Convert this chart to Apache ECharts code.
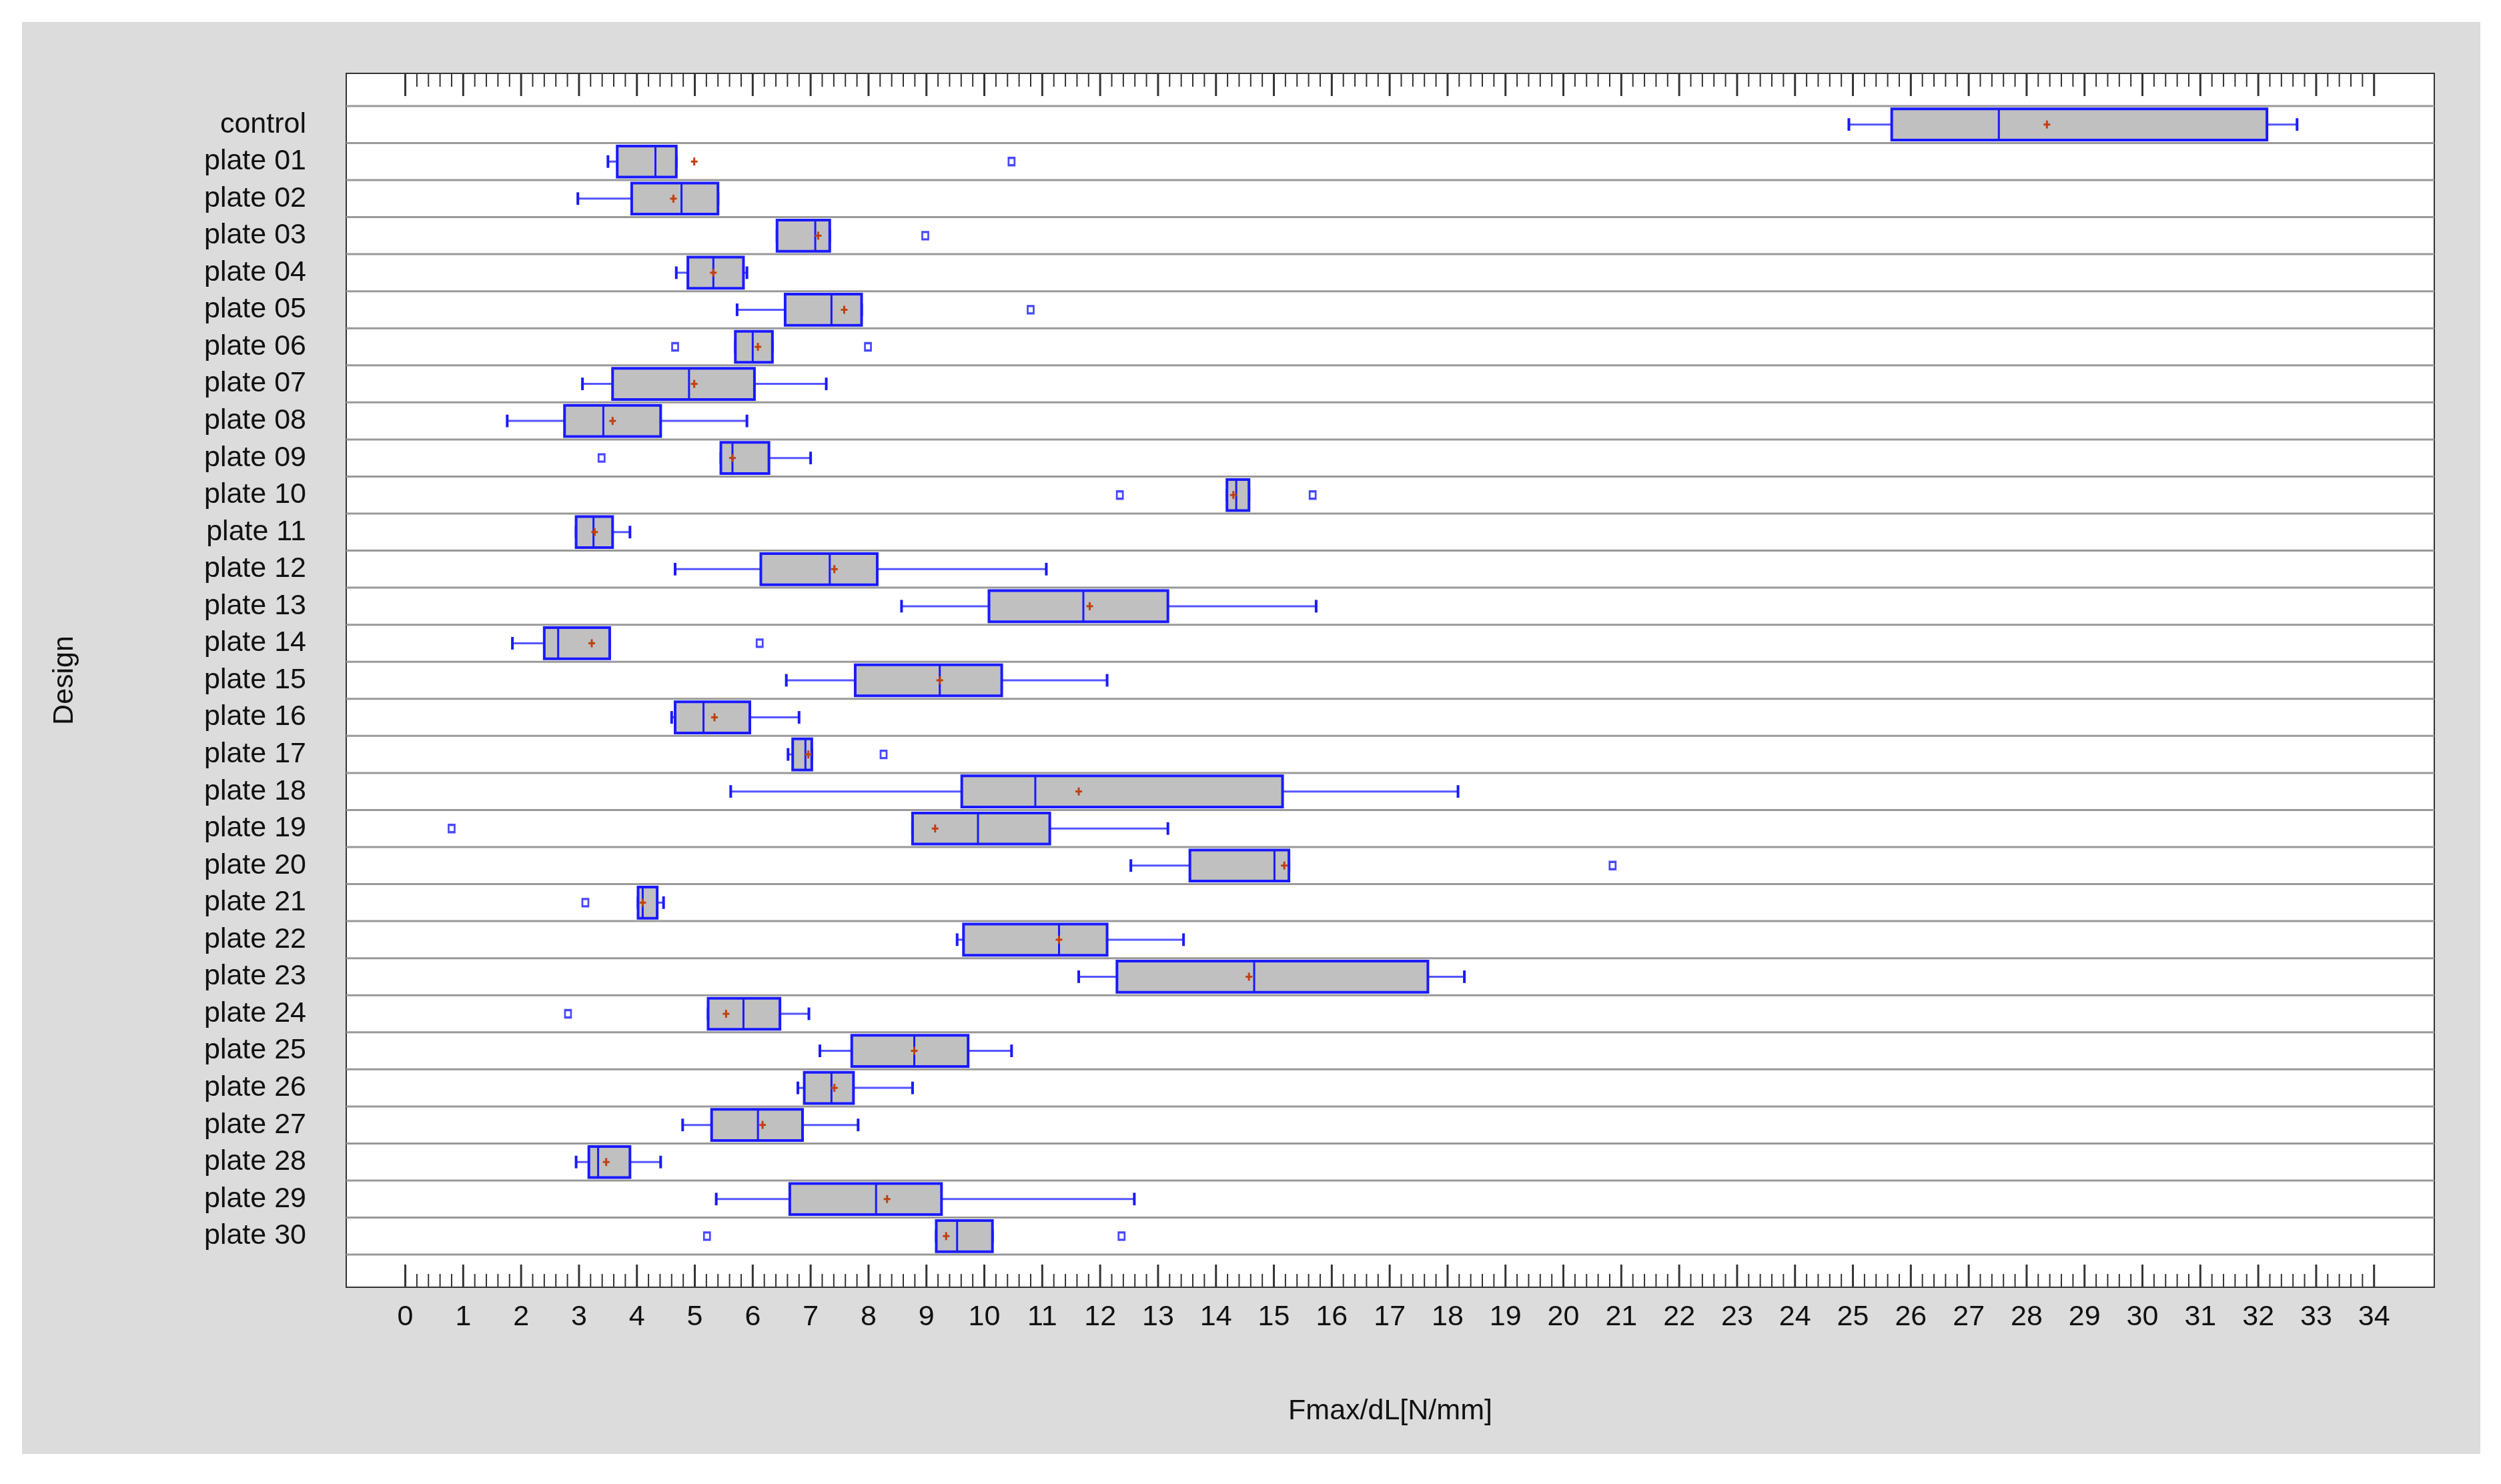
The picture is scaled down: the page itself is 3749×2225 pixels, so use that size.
<!DOCTYPE html>
<html><head><meta charset="utf-8">
<script src="https://cdn.jsdelivr.net/npm/echarts@6/dist/echarts.min.js"></script>
<style>html,body{margin:0;padding:0;background:#fff}#c{width:3749px;height:2225px}</style>
</head><body><div id="c"></div>
<script>
const categories = ['control','plate 01','plate 02','plate 03','plate 04','plate 05','plate 06','plate 07','plate 08','plate 09','plate 10','plate 11','plate 12','plate 13','plate 14','plate 15','plate 16','plate 17','plate 18','plate 19','plate 20','plate 21','plate 22','plate 23','plate 24','plate 25','plate 26','plate 27','plate 28','plate 29','plate 30'];
// [low, q1, median, q3, high]
const boxStats = [
 [24.93,25.67,27.52,32.15,32.67],
 [3.50,3.66,4.32,4.68,4.68],
 [2.98,3.91,4.77,5.40,5.40],
 [6.42,6.42,7.08,7.33,7.33],
 [4.68,4.88,5.32,5.84,5.90],
 [5.73,6.56,7.36,7.88,7.88],
 [5.70,5.70,6.00,6.34,6.34],
 [3.06,3.58,4.90,6.03,7.27],
 [1.76,2.75,3.42,4.41,5.90],
 [5.45,5.45,5.65,6.28,7.00],
 [14.19,14.19,14.35,14.57,14.57],
 [2.95,2.95,3.25,3.58,3.88],
 [4.66,6.14,7.33,8.15,11.07],
 [8.57,10.08,11.71,13.17,15.73],
 [1.85,2.40,2.64,3.53,3.53],
 [6.58,7.77,9.23,10.30,12.12],
 [4.60,4.66,5.15,5.95,6.80],
 [6.61,6.69,6.91,7.02,7.02],
 [5.62,9.61,10.88,15.15,18.18],
 [8.76,8.76,9.89,11.13,13.17],
 [12.53,13.55,15.01,15.26,15.26],
 [4.02,4.02,4.10,4.35,4.46],
 [9.53,9.64,11.29,12.12,13.44],
 [11.63,12.29,14.66,17.66,18.29],
 [5.23,5.23,5.84,6.47,6.97],
 [7.16,7.71,8.79,9.72,10.47],
 [6.78,6.89,7.36,7.74,8.76],
 [4.79,5.29,6.09,6.86,7.82],
 [2.95,3.17,3.33,3.88,4.41],
 [5.37,6.64,8.13,9.26,12.59],
 [9.17,9.17,9.53,10.14,10.14]
];
const means = [28.35,4.99,4.63,7.13,5.32,7.58,6.09,4.99,3.58,5.65,14.30,3.27,7.41,11.82,3.22,9.23,5.34,6.96,11.63,9.15,15.18,4.10,11.29,14.57,5.54,8.79,7.41,6.17,3.47,8.32,9.34];
// [row index, value]
const outliers = [[1,10.47],[3,8.98],[5,10.80],[6,4.66],[6,7.99],[9,3.39],[10,12.34],[10,15.67],[14,6.12],[17,8.26],[19,0.80],[20,20.85],[21,3.11],[24,2.81],[30,5.21],[30,12.37]];
const xTicks = [0,1,2,3,4,5,6,7,8,9,10,11,12,13,14,15,16,17,18,19,20,21,22,23,24,25,26,27,28,29,30,31,32,33,34];

const XMIN=-1.02, XMAX=35.04;
const boxData = boxStats.map((b,i)=>[i].concat(b).concat([means[i]]));
const sepData = []; for(let i=0;i<=categories.length;i++) sepData.push([i-0.5]);
const tickData = [];
xTicks.forEach(t=>{tickData.push([t,1]); if(t<34) [1,2,3,4].forEach(k=>tickData.push([t+k*0.2,0]));});
const BLUE='#1a1aff';
const chart = echarts.init(document.getElementById('c'));
chart.setOption({
 backgroundColor:'#fff',
 animation:false,
 graphic:[{type:'rect',z:-10,silent:true,shape:{x:33,y:33,width:3685,height:2147},style:{fill:'#dcdcdc'}}],
 grid:{left:519,right:100,top:110,bottom:295,show:true,backgroundColor:'#fff',borderColor:'#333',borderWidth:2},
 xAxis:{type:'value',position:'bottom',min:XMIN,max:XMAX,
   axisLine:{show:false},splitLine:{show:false},axisTick:{show:false},
   axisLabel:{customValues:xTicks,fontFamily:'Liberation Sans',fontSize:43,color:'#111',margin:24},
   name:'Fmax/dL[N/mm]',nameLocation:'middle',nameGap:165,nameTextStyle:{fontFamily:'Liberation Sans',fontSize:43,color:'#111'}
 },
 yAxis:{type:'value',inverse:true,min:-1.38,max:categories.length-1+1.38,
   axisLine:{show:false},splitLine:{show:false},axisTick:{show:false},
   axisLabel:{customValues:categories.map((c,i)=>i),formatter:v=>categories[Math.round(v)],fontFamily:'Liberation Sans',fontSize:43,color:'#111',margin:60},
   name:'Design',nameLocation:'middle',nameGap:400,nameTextStyle:{fontFamily:'Liberation Sans',fontSize:43,color:'#111'}
 },
 series:[
  {type:'custom',data:sepData,z:1,silent:true,
   renderItem:(p,api)=>{const a=api.coord([XMIN,api.value(0)]),b=api.coord([XMAX,api.value(0)]);
    return {type:'line',shape:{x1:a[0],y1:a[1],x2:b[0],y2:b[1]},style:{stroke:'#999',lineWidth:3}};}},
  {type:'custom',data:tickData,silent:true,z:2,
   renderItem:(p,api)=>{const x=api.coord([api.value(0),0])[0];const cs=p.coordSys;const L=api.value(1)?34:20;
    return {type:'group',children:[
     {type:'line',shape:{x1:x,y1:cs.y,x2:x,y2:cs.y+L},style:{stroke:'#333',lineWidth:api.value(1)?3:2}},
     {type:'line',shape:{x1:x,y1:cs.y+cs.height,x2:x,y2:cs.y+cs.height-L},style:{stroke:'#333',lineWidth:api.value(1)?3:2}}]};}},
  {type:'custom',data:boxData,z:5,
   renderItem:(p,api)=>{
    const y=api.value(0),lo=api.value(1),q1=api.value(2),md=api.value(3),q3=api.value(4),hi=api.value(5),mn=api.value(6);
    const h=api.size([0,0.84])[1], ch=api.size([0,0.34])[1];
    const pl=api.coord([lo,y]),p1=api.coord([q1,y]),pm=api.coord([md,y]),p3=api.coord([q3,y]),ph=api.coord([hi,y]),pmn=api.coord([mn,y]);
    const cy=pl[1];
    const ln=(x1,y1,x2,y2,w,c)=>({type:'line',shape:{x1,y1,x2,y2},style:{stroke:c||BLUE,lineWidth:w||3}});
    return {type:'group',children:[
     ln(pl[0],cy,p1[0],cy,3,'#5555ff'), ln(p3[0],cy,ph[0],cy,3,'#5555ff'),
     ln(pl[0],cy-ch/2,pl[0],cy+ch/2,4), ln(ph[0],cy-ch/2,ph[0],cy+ch/2,4),
     {type:'rect',shape:{x:p1[0],y:cy-h/2,width:Math.max(p3[0]-p1[0],1),height:h},style:{fill:'#c0c0c0',stroke:BLUE,lineWidth:4}},
     ln(pm[0],cy-h/2,pm[0],cy+h/2,3),
     ln(pmn[0]-5,cy,pmn[0]+5,cy,3,'#c04010'), ln(pmn[0],cy-6,pmn[0],cy+6,3,'#c04010')
    ]};}},
  {type:'scatter',data:outliers.map(o=>[o[1],o[0]]),symbol:'rect',symbolSize:[9,11],z:6,
   itemStyle:{color:'#fff',borderColor:BLUE,borderWidth:3}}
 ]
});
</script></body></html>
